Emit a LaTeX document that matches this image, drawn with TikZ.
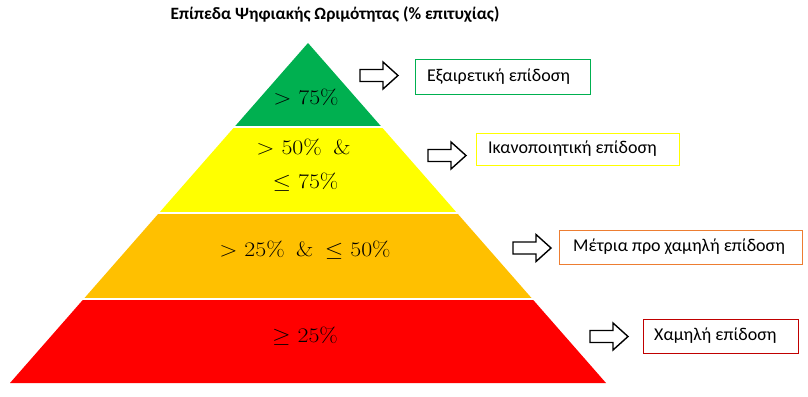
\documentclass[tikz,border=0pt]{standalone}
\usepackage[no-math]{fontspec}
\usepackage{graphicx}
\setmainfont{Carlito}
\definecolor{pgreen}{HTML}{00B050}
\definecolor{pyellow}{HTML}{FFFF00}
\definecolor{porange}{HTML}{FFC000}
\definecolor{pred}{HTML}{FF0000}
\definecolor{borange}{HTML}{ED7D31}
\definecolor{bred}{HTML}{C00000}
\tikzset{
  lbox/.style={draw=#1, line width=1pt, fill=white},
  ltext/.style={anchor=west, inner sep=0pt, font=\fontsize{18}{21}\selectfont},
  ptext/.style={inner sep=0pt, font=\fontsize{21}{25}\selectfont},
  barrow/.style={draw=black, line width=1.4pt, fill=white, line join=miter},
}
\newcommand{\wide}[1]{\scalebox{1.15}[1]{#1}}
\newcommand{\blockarr}[3]{% name, x0, cy
  \coordinate (#1) at (#2,#3);
  \draw[barrow] ([shift={(0,-6)}]#1) -- ++(23,0) -- ++(0,-7.5) -- ++(15,13.5) -- ++(-15,13.5) -- ++(0,-7.5) -- ++(-23,0) -- cycle;
}
\begin{document}
\begin{tikzpicture}[x=1pt,y=-1pt]
\useasboundingbox (0,0) rectangle (808,396);
\begin{scope}
  \clip (10,383) -- (308,43) -- (606,383) -- cycle;
  \fill[pgreen]  (0,40)  rectangle (808,126);
  \fill[pyellow] (0,128) rectangle (808,212);
  \fill[porange] (0,214) rectangle (808,298);
  \fill[pred]    (0,300) rectangle (808,384);
\end{scope}
\node[inner sep=0pt, font=\bfseries\fontsize{17.3}{20}\selectfont] (title) at (335,15) {Επίπεδα Ψηφιακής Ωριμότητας (\% επιτυχίας)};
\node[ptext] (t1) at (306,97) {\wide{$\mathord{>}\hspace{6pt}75\%$}};
\node[ptext] (t2a) at (303.5,147) {\wide{$\mathord{>}\hspace{6pt}50\%\hspace{10pt}\&$}};
\node[ptext] (t2b) at (305.5,182) {\wide{$\mathord{\leq}\hspace{6pt}75\%$}};
\node[ptext] (t3) at (305,250) {\wide{$\mathord{>}\hspace{6pt}25\%\hspace{10pt}\&\hspace{10pt}\mathord{\leq}\hspace{6pt}50\%$}};
\node[ptext] (t4) at (305,336) {\wide{$\mathord{\geq}\hspace{6pt}25\%$}};
\blockarr{a1}{360}{75.5}
\blockarr{a2}{428}{155.5}
\blockarr{a3}{513}{248}
\blockarr{a4}{590}{336.5}
\draw[lbox=pgreen]  (415,60)  rectangle (590,94);
\draw[lbox=pyellow] (476,133) rectangle (679,165);
\draw[lbox=borange] (559,230) rectangle (802,264);
\draw[lbox=bred]    (643,319) rectangle (798,353);
\node[ltext] (l1) at (427,77)  {Εξαιρετική επίδοση};
\node[ltext] (l2) at (488,149) {Ικανοποιητική επίδοση};
\node[ltext] (l3) at (573,247) {Μέτρια προ χαμηλή επίδοση};
\node[ltext] (l4) at (654,336) {Χαμηλή επίδοση};
\end{tikzpicture}
\end{document}
